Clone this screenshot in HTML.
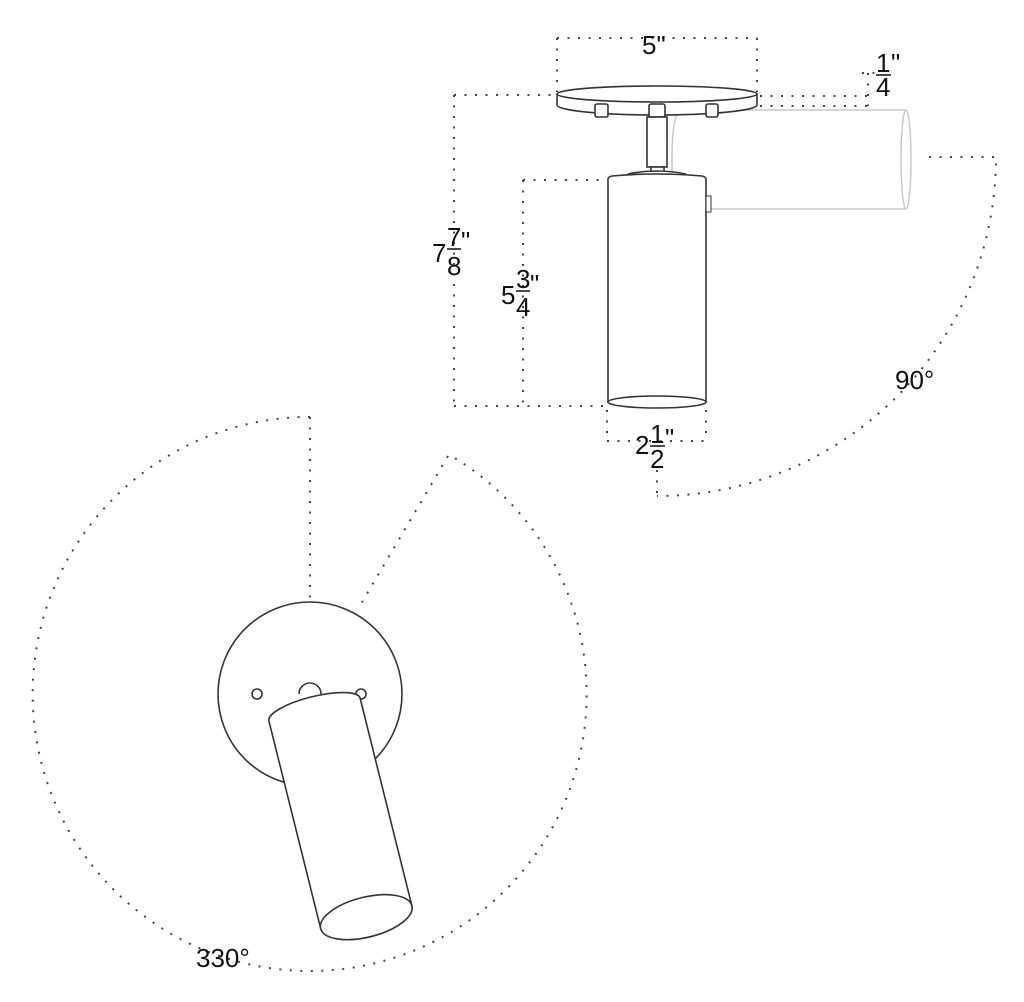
<!DOCTYPE html>
<html><head><meta charset="utf-8"><style>
html,body{margin:0;padding:0;background:#fff}
svg{display:block}
text{font-family:"Liberation Sans",Arial,sans-serif;fill:#111;font-size:26px}
</style></head><body>
<svg width="1024" height="1002" viewBox="0 0 1024 1002" xmlns="http://www.w3.org/2000/svg">
<g fill="none" stroke="#444" stroke-width="2" stroke-dasharray="2 8.5">
  <path d="M557 38 H757 M557 38 V92 M757 38 V92"/>
  <path d="M760 96 H868 M760 106 H868 M868 73 V106 M862 73 H877"/>
  <path d="M454 95 H555 M454 95 V406 M454 406 H606"/>
  <path d="M523 180 H606 M523 180 V406"/>
  <path d="M607 410 V441 M706 410 V441 M607 441 H706 M657 470 V496"/>
  <path d="M929 157 H996 A339 339 0 0 1 657 496"/>
  <path d="M310 417 A277 277 0 1 0 448 454"/>
  <path d="M310 417 V600 M448 456 L358 609"/>
</g>

<g fill="none" stroke="#c8c8c8" stroke-width="1.5">
  <path d="M680 110 H906 M680 209 H906"/>
  <ellipse cx="906" cy="159.5" rx="5" ry="49.5"/>
  <path d="M680 110 Q672 115 672 160 Q672 205 680 209"/>
</g>

<g fill="#fff" stroke="#333" stroke-width="1.6">
  <path d="M557 94 V105 A100 10 0 0 0 757 105 V94"/>
  <ellipse cx="657" cy="94" rx="100" ry="8"/>
  <rect x="595" y="104" width="13" height="13" rx="2"/>
  <rect x="706" y="104" width="12" height="13" rx="2"/>
  <rect x="649" y="104" width="16" height="13" rx="2"/>
  <rect x="647" y="117" width="20" height="50"/>
  <rect x="651" y="167" width="13" height="6"/>
  <path d="M628 174 Q657 168 686 174"/>
  <path d="M608 179 Q608 177 612 176 Q657 172 702 176 Q706 177 706 179 V402 H608 Z"/>
  <ellipse cx="657" cy="402" rx="49" ry="6"/>
  <rect x="706" y="196" width="5" height="16" stroke-width="1"/>
</g>

<g fill="#fff" stroke="#333" stroke-width="1.6">
  <circle cx="310" cy="694" r="92"/>
  <circle cx="257" cy="694" r="5"/>
  <circle cx="361" cy="694" r="5"/>
  <path d="M299 694 A11 11 0 0 1 321 694"/>
  <g transform="translate(314.5 709.5) rotate(-14)">
    <path d="M-47 0 A47 13 0 0 1 47 0 V214 H-47 Z"/>
    <ellipse cx="0" cy="214" rx="47" ry="20"/>
  </g>
</g>

<g>
  <text x="642" y="54">5"</text>
  <text x="876" y="72">1</text>
  <line x1="876" y1="75" x2="891" y2="75" stroke="#111" stroke-width="1.5"/>
  <text x="876" y="96">4</text>
  <text x="891" y="72">"</text>

  <text x="432" y="262">7</text>
  <text x="447" y="246">7</text>
  <line x1="447" y1="249" x2="461" y2="249" stroke="#111" stroke-width="1.5"/>
  <text x="447" y="275">8</text>
  <text x="461" y="250">"</text>

  <text x="501" y="304">5</text>
  <text x="516" y="288">3</text>
  <line x1="516" y1="291" x2="530" y2="291" stroke="#111" stroke-width="1.5"/>
  <text x="516" y="316">4</text>
  <text x="530" y="293">"</text>

  <text x="635" y="454">2</text>
  <text x="650" y="443">1</text>
  <line x1="650" y1="446" x2="665" y2="446" stroke="#111" stroke-width="1.5"/>
  <text x="650" y="468">2</text>
  <text x="665" y="447">"</text>

  <text x="895" y="389">90°</text>
  <text x="196" y="967">330°</text>
</g>
</svg>
</body></html>
